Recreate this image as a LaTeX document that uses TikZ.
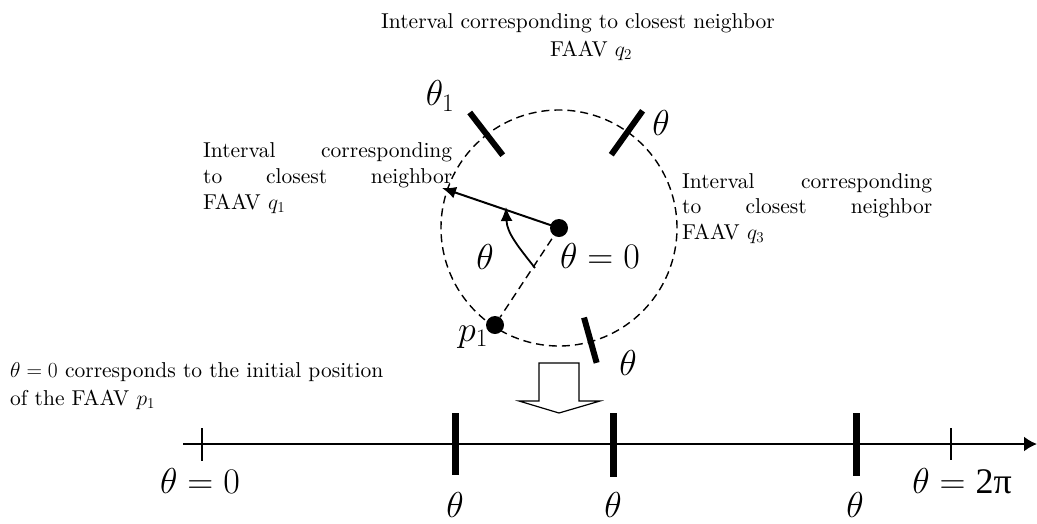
\RequirePackage{fix-cm}
\documentclass[tikz,border=0pt]{standalone}
\usepackage{fontspec}
\setmainfont{lmroman10-regular}[Extension=.otf, ItalicFont=lmroman10-italic, BoldFont=lmroman10-bold]
\newfontfamily\timesf{Liberation Serif}
\usetikzlibrary{arrows.meta}
\begin{document}
\begin{tikzpicture}[x=1pt,y=-1pt,
  txt/.style={inner sep=0pt, font=\fontsize{21.5}{26}\selectfont},
  big/.style={inner sep=0pt, font=\fontsize{36}{40}\selectfont},
  dot/.style={circle, fill=black, inner sep=0pt, minimum size=18pt},
  ring/.style={line width=1.4pt, dash pattern=on 8pt off 5pt},
  bar/.style={line width=6pt},
  axbar/.style={line width=7pt},
  tick/.style={line width=1.5pt},
  arr/.style={line width=2pt, -{Latex[length=14pt,width=12pt]}},
  hollow/.style={line width=1.2pt, fill=white, line join=miter}]
\useasboundingbox (0,0) rectangle (1037,523);

% circle and points
\coordinate (c0) at (559,228);
\draw[ring] (c0) circle (118pt);
\node[dot] (p1) at (495,325) {};
\draw[ring] (c0) -- (p1);
\node[dot] (c) at (c0) {};

% interval bars on the circle
\draw[bar] ([shift={(127.7:92pt)}]c0) -- ([shift={(127.7:146pt)}]c0);
\draw[bar] ([shift={(54.5:90pt)}]c0) -- ([shift={(54.5:144pt)}]c0);
\draw[bar] ([shift={(-74.4:93pt)}]c0) -- ([shift={(-74.4:140pt)}]c0);

% arrows
\coordinate (q1) at (442,188);
\draw[arr] (c.center) -- (q1);
\coordinate (cs) at (535,268);
\coordinate (ce) at (506,207);
\draw[arr, line width=1.8pt] (cs) to[out=128,in=-88] (ce);

% labels around the circle
\node[big] (th1) at (440,96) {$\theta_1$};
\node[big] (th2) at (661,123) {$\theta$};
\node[big] (th3) at (628,363) {$\theta$};
\node[big] (tha) at (485,257) {$\theta$};
\node[big] (th0) at (600,256) {$\theta = 0$};
\node[big] (p1l) at (473,337) {$p_1$};

% texts
\node[txt, anchor=base] (t1) at (578,28) {Interval corresponding to closest neighbor};
\node[txt, anchor=base] (t2) at (591,56) {FAAV $q_2$};

\node[txt, anchor=base west] (l1) at (203,157) {\hbox to 249pt{Interval\hfill corresponding}};
\node[txt, anchor=base west] (l2) at (203,183) {\hbox to 249pt{to\hfill closest\hfill neighbor}};
\node[txt, anchor=base west] (l3) at (203,209) {FAAV $q_1$};

\node[txt, anchor=base west] (r1) at (682,188) {\hbox to 250pt{Interval\hfill corresponding}};
\node[txt, anchor=base west] (r2) at (682,213) {\hbox to 250pt{to\hfill closest\hfill neighbor}};
\node[txt, anchor=base west] (r3) at (682,239) {FAAV $q_3$};

\node[txt, anchor=base west] (b1) at (10,377) {$\theta = 0$ corresponds to the initial position};
\node[txt, anchor=base west] (b2) at (10,405) {of the FAAV $p_1$};

% hollow arrow
\draw[hollow] (539,363) -- (579,363) -- (579,401) -- (600,401) -- (559,413) -- (519,401) -- (539,401) -- cycle;

% axis
\coordinate (a0) at (183,444);
\coordinate (a1) at (1037,444);
\draw[line width=2pt, -{Latex[length=13pt,width=15pt]}] (a0) -- (a1);
\draw[tick] (202,428) -- (202,461);
\draw[tick] (951,428) -- (951,460);
\draw[axbar] (455,413) -- (455,475);
\draw[axbar] (613,413) -- (613,477);
\draw[axbar] (856,413) -- (856,476);

\node[big] (x0) at (200,481) {$\theta = 0$};
\node[big] (x2) at (962,481) {$\theta = \mbox{\timesf 2π}$};
\node[big] (xa) at (455,505) {$\theta$};
\node[big] (xb) at (613,505) {$\theta$};
\node[big] (xc) at (855,505) {$\theta$};
\end{tikzpicture}
\end{document}
